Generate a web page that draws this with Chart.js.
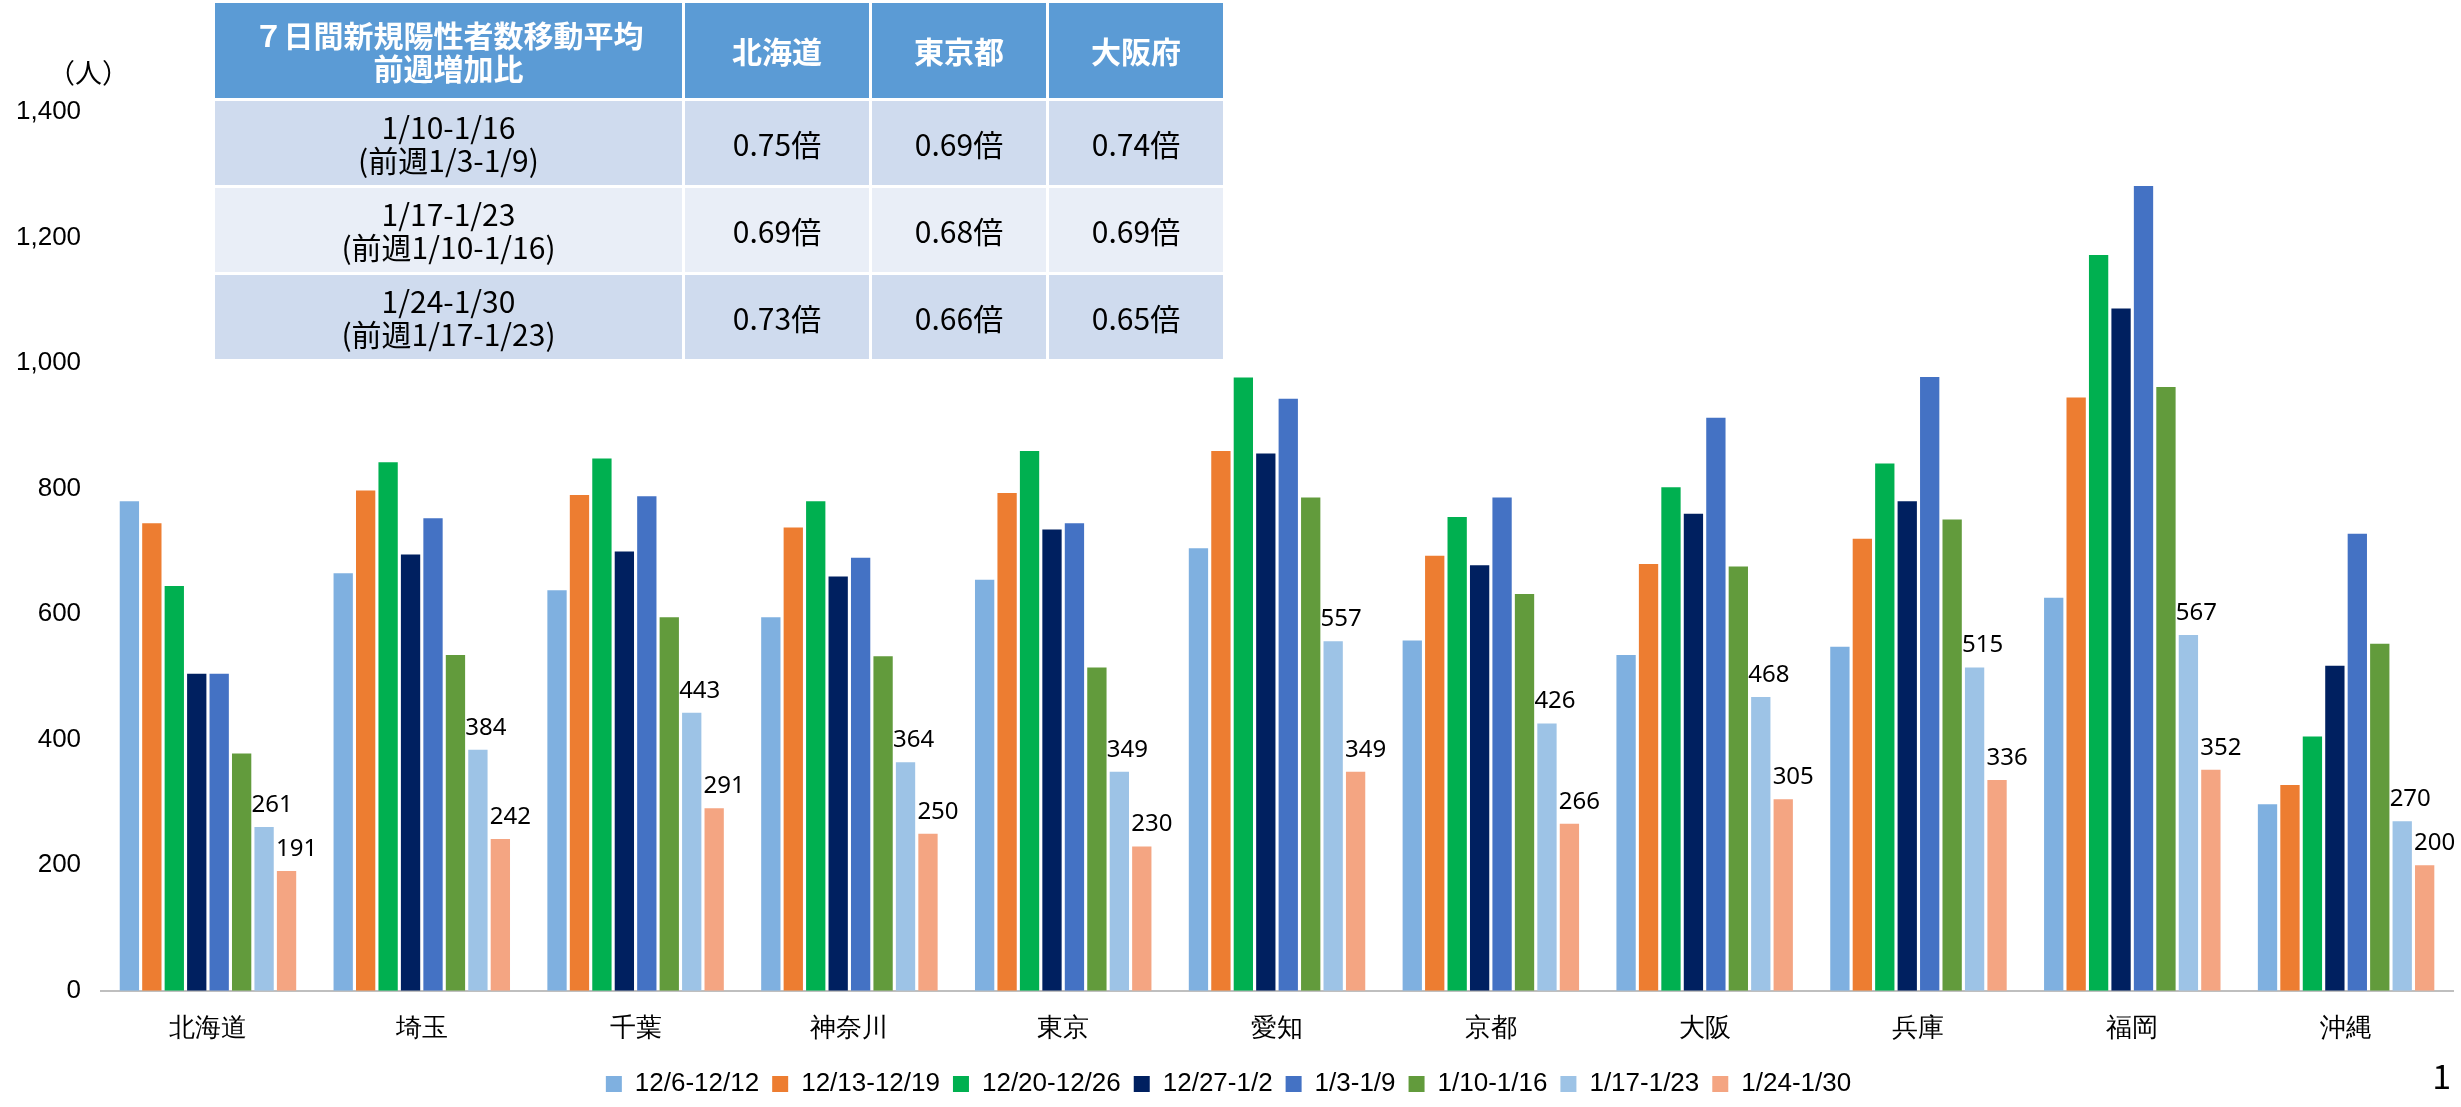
<!DOCTYPE html>
<html><head><meta charset="utf-8">
<script src="https://cdn.jsdelivr.net/npm/chart.js@4"></script>
<style>
body{margin:0;background:#fff;font-family:"Noto Sans CJK JP","Noto Sans",sans-serif;}
#wrap{position:relative;width:2461px;height:1107px;}
#tbl{position:absolute;left:212px;top:0;border-collapse:collapse;font-size:30px;z-index:2}
#tbl td{text-align:center;border:3px solid #fff;color:#000;line-height:1.1}
#tbl tr.h td{background:#5B9BD5;color:#fff;font-weight:bold;height:93px}
#tbl tr.a td{background:#CFDBEE;height:82px}
#tbl tr.b td{background:#E9EEF7;height:82px}
#unit{position:absolute;left:48px;top:52px;font-size:27px}
#page{position:absolute;right:10px;bottom:8px;font-size:34px}
</style></head><body>
<div id="wrap">
<canvas id="c" width="2461" height="1107"></canvas>
<div id="unit">（人）</div>
<table id="tbl">
<tr class="h"><td style="width:465px">７日間新規陽性者数移動平均<br>前週増加比</td><td style="width:182px">北海道</td><td style="width:172px">東京都</td><td style="width:172px">大阪府</td></tr>
<tr class="a"><td>1/10-1/16<br>(前週1/3-1/9)</td><td>0.75倍</td><td>0.69倍</td><td>0.74倍</td></tr>
<tr class="b"><td>1/17-1/23<br>(前週1/10-1/16)</td><td>0.69倍</td><td>0.68倍</td><td>0.69倍</td></tr>
<tr class="a"><td>1/24-1/30<br>(前週1/17-1/23)</td><td>0.73倍</td><td>0.66倍</td><td>0.65倍</td></tr>
</table>
<div id="page">1</div>
</div>
<script>
var regions = ['北海道','埼玉','千葉','神奈川','東京','愛知','京都','大阪','兵庫','福岡','沖縄'];
var weeks = ['12/6-12/12','12/13-12/19','12/20-12/26','12/27-1/2','1/3-1/9','1/10-1/16','1/17-1/23','1/24-1/30'];
var colors = ['#7FB0E0','#ED7D31','#00B050','#002060','#4472C4','#629B3C','#9DC3E6','#F4A582'];
var w1 = [780,665,638,595,655,705,558,535,548,626,297];
var w2 = [745,797,790,738,793,860,693,680,720,945,328];
var w3 = [645,842,848,780,860,977,755,802,840,1172,405];
var w4 = [505,695,700,660,735,856,678,760,780,1087,518];
var w5 = [505,753,788,690,745,943,786,913,978,1282,728];
var w6 = [378,535,595,533,515,786,632,676,751,962,553];
var w7 = [261,384,443,364,349,557,426,468,515,567,270];
var w8 = [191,242,291,250,230,349,266,305,336,352,200];
var series = [w1,w2,w3,w4,w5,w6,w7,w8];

var labelPlugin = {
   id: 'vals',
   afterDatasetsDraw: function(chart) {
      var ctx = chart.ctx;
      ctx.save();
      ctx.font = '24px "Noto Sans","DejaVu Sans",sans-serif';
      ctx.fillStyle = '#000';
      ctx.textAlign = 'center';
      ctx.textBaseline = 'bottom';
      [6,7].forEach(function(di) {
         chart.getDatasetMeta(di).data.forEach(function(bar, i) {
            var dx = di == 6 ? 8 : 10;
            ctx.fillText(series[di][i], bar.x + dx, bar.y - 10);
         });
      });
      ctx.restore();
   }
};

new Chart(document.getElementById('c'), {
   type: 'bar',
   data: {
      labels: regions,
      datasets: series.map(function(s, i) {
         return {label: weeks[i], data: s, backgroundColor: colors[i], categoryPercentage: 0.84, barPercentage: 0.86};
      })
   },
   options: {
      responsive: false,
      animation: false,
      layout: {padding: {left: 4, right: 8, top: 112, bottom: 0}},
      scales: {
         y: {min: 0, max: 1400, ticks: {stepSize: 200, font: {size: 26}, color: '#000', padding: 12},
             grid: {display: false}, border: {display: false}},
         x: {ticks: {font: {size: 26}, color: '#000', padding: 14},
             grid: {display: false}, border: {color: '#bfbfbf', width: 2}}
      },
      plugins: {
         legend: {position: 'bottom', labels: {font: {size: 26}, color: '#000', boxWidth: 16, boxHeight: 16, padding: 13}},
         tooltip: {enabled: false}
      }
   },
   plugins: [labelPlugin]
});
</script>
</body></html>
